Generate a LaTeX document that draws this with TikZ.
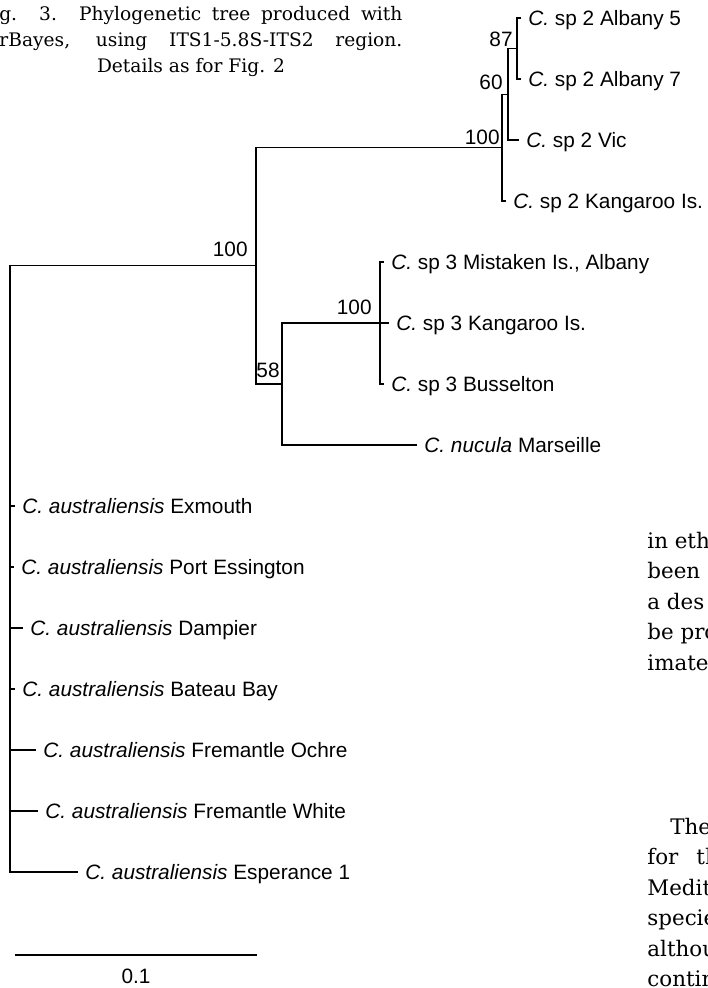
\documentclass[tikz,border=0pt]{standalone}
\usepackage{fontspec}
\setmainfont{Liberation Sans}
\newfontfamily\capfont{DejaVu Serif}
\usetikzlibrary{calc}
\newlength\capw
\settowidth\capw{\capfont\fontsize{10}{12}\selectfont Details as for Fig. 2}
\pgfmathsetmacro\capsz{10*94/\capw}
\newcommand\labfont{\fontsize{10.4}{12}\selectfont}
\newcommand\bodyfont{\capfont\fontsize{10.7}{12}\selectfont}
\newcommand\capsel{\capfont\fontsize{\capsz}{12}\selectfont}
\begin{document}
\begin{tikzpicture}[x=0.5pt,y=-0.5pt,
  branch/.style={line width=0.7pt, line cap=rect, line join=miter},
  lab/.style={anchor=base west, inner sep=0pt, font=\labfont},
  boot/.style={anchor=base east, inner sep=0pt, font=\labfont},
  capline/.style={anchor=base west, inner sep=0pt, font=\capsel},
  bodyline/.style={anchor=base west, inner sep=0pt, font=\bodyfont}]
\useasboundingbox (0,0) rectangle (707,988);
\clip (0,0) rectangle (707,988);
% internal nodes
\coordinate (root) at (10,265.8);
\coordinate (n100a) at (256,265.8);
\coordinate (n100b) at (502,147.6);
\coordinate (n60) at (508,94.25);
\coordinate (n87) at (517,48.5);
\coordinate (n58) at (282,384);
\coordinate (n100c) at (380,323);
% tips
\coordinate (tA5) at (520,18);
\coordinate (tA7) at (520,79);
\coordinate (tVic) at (518,140);
\coordinate (tKI2) at (505,201);
\coordinate (tMis) at (383,262);
\coordinate (tKI3) at (388,323);
\coordinate (tBus) at (383,384);
\coordinate (tNuc) at (416,445);
\coordinate (tExm) at (14,506);
\coordinate (tPE) at (13,567);
\coordinate (tDam) at (22,628);
\coordinate (tBat) at (14,689);
\coordinate (tFO) at (35,750);
\coordinate (tFW) at (37,811);
\coordinate (tEsp) at (77,872);
% branches
\draw[branch] (root) |- (n100a);
\draw[branch] (n100a) |- (n100b);
\draw[branch] (n100a) |- (n58);
\draw[branch] (n100b) |- (n60);
\draw[branch] (n100b) |- (tKI2);
\draw[branch] (n60) |- (n87);
\draw[branch] (n60) |- (tVic);
\draw[branch] (n87) |- (tA5);
\draw[branch] (n87) |- (tA7);
\draw[branch] (n58) |- (n100c);
\draw[branch] (n58) |- (tNuc);
\draw[branch] (n100c) |- (tMis);
\draw[branch] (n100c) |- (tKI3);
\draw[branch] (n100c) |- (tBus);
\foreach \t in {tExm,tPE,tDam,tBat,tFO,tFW,tEsp} \draw[branch] (root) |- (\t);
% tip labels
\node[lab] (lA5) at ($(tA5)+(8,7.5)$) {\textit{C.} sp 2 Albany 5};
\node[lab] (lA7) at ($(tA7)+(8,7.5)$) {\textit{C.} sp 2 Albany 7};
\node[lab] (lVic) at ($(tVic)+(8,7.5)$) {\textit{C.} sp 2 Vic};
\node[lab] (lKI2) at ($(tKI2)+(8,7.5)$) {\textit{C.} sp 2 Kangaroo Is.};
\node[lab] (lMis) at ($(tMis)+(8,7.5)$) {\textit{C.} sp 3 Mistaken Is., Albany};
\node[lab] (lKI3) at ($(tKI3)+(8,7.5)$) {\textit{C.} sp 3 Kangaroo Is.};
\node[lab] (lBus) at ($(tBus)+(8,7.5)$) {\textit{C.} sp 3 Busselton};
\node[lab] (lNuc) at ($(tNuc)+(8,7.5)$) {\textit{C. nucula} Marseille};
\node[lab] (lExm) at ($(tExm)+(8,7.5)$) {\textit{C. australiensis} Exmouth};
\node[lab] (lPE) at ($(tPE)+(8,7.5)$) {\textit{C. australiensis} Port Essington};
\node[lab] (lDam) at ($(tDam)+(8,7.5)$) {\textit{C. australiensis} Dampier};
\node[lab] (lBat) at ($(tBat)+(8,7.5)$) {\textit{C. australiensis} Bateau Bay};
\node[lab] (lFO) at ($(tFO)+(8,7.5)$) {\textit{C. australiensis} Fremantle Ochre};
\node[lab] (lFW) at ($(tFW)+(8,7.5)$) {\textit{C. australiensis} Fremantle White};
\node[lab] (lEsp) at ($(tEsp)+(8,7.5)$) {\textit{C. australiensis} Esperance 1};
% support values
\node[boot] (b100a) at ($(n100a)+(-8,-8.8)$) {100};
\node[boot] (b100b) at ($(n100b)+(-2,-2.6)$) {100};
\node[boot] (b60) at ($(n60)+(-5,-4.25)$) {60};
\node[boot] (b87) at ($(n87)+(-4,-1.5)$) {87};
\node[boot] (b100c) at ($(n100c)+(-8,-8)$) {100};
\node[boot] (b58) at ($(n58)+(-2,-6)$) {58};
% scale bar
\coordinate (sb1) at (15,955);
\coordinate (sb2) at (257,955);
\draw[branch, line cap=butt] (sb1) -- (sb2);
\node[anchor=base, inner sep=0pt, font=\labfont] (sblab) at (136,983) {0.1};
% caption
\node[capline] (cap1) at (-20,21) {\makebox[211pt][s]{Fig. 3. Phylogenetic tree produced with}};
\node[capline] (cap2) at (-20,46.7) {\makebox[211pt][s]{MrBayes, using ITS1-5.8S-ITS2 region.}};
\node[anchor=base, inner sep=0pt, font=\capsel] (cap3) at (191,72.4) {Details as for Fig. 2};
% running text at right edge
\node[bodyline] (r1) at (647,548) {in eth};
\node[bodyline] (r2) at (647,578.5) {been};
\node[bodyline] (r3) at (647,609) {a des};
\node[bodyline] (r4) at (647,639.5) {be pro};
\node[bodyline] (r5) at (647,670) {imate};
\node[bodyline] (r6) at (670,834) {The};
\node[bodyline] (r7) at (647,864.5) {for\hspace{9pt}th};
\node[bodyline] (r8) at (647,895) {Medit};
\node[bodyline] (r9) at (647,925.5) {specie};
\node[bodyline] (r10) at (647,956) {althou};
\node[bodyline] (r11) at (647,986.5) {contin};
\end{tikzpicture}
\end{document}
